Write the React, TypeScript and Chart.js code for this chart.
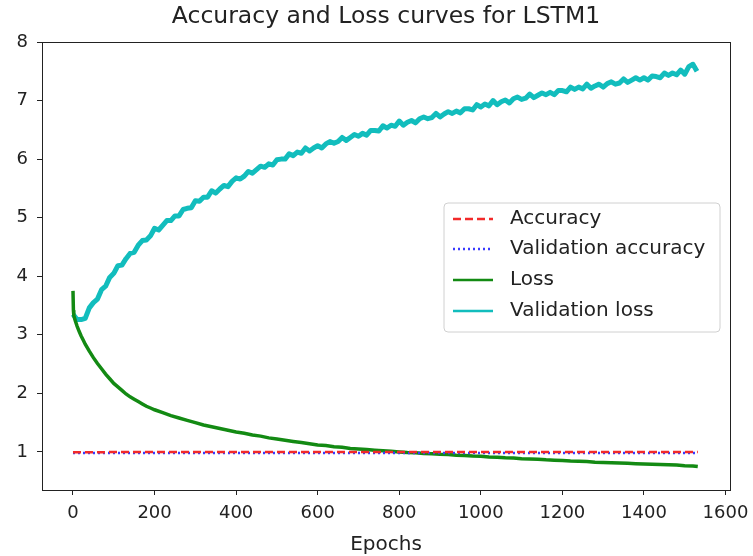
import React, { useEffect, useRef } from "react";
import { Chart, registerables } from "chart.js";

Chart.register(...registerables);

const TITLE = "Accuracy and Loss curves for LSTM1";
const X_LABEL = "Epochs";
const X_TICKS = [0, 200, 400, 600, 800, 1000, 1200, 1400, 1600];
const Y_TICKS = [1, 2, 3, 4, 5, 6, 7, 8];
const X_MIN = -76;
const X_MAX = 1611;
const Y_MIN = 0.35;
const Y_MAX = 8;

const accEpochs = [0, 100, 200, 300, 400, 500, 600, 700, 800, 900, 1000, 1100, 1200, 1300, 1400, 1500, 1532];
const accValues = [0.995, 0.997, 0.998, 0.998, 0.998, 0.999, 0.999, 0.999, 0.999, 0.999, 0.999, 0.999, 0.999, 0.999, 0.999, 0.999, 0.999];
const valAccValues = [0.982, 0.983, 0.983, 0.983, 0.983, 0.983, 0.983, 0.983, 0.983, 0.983, 0.983, 0.983, 0.983, 0.983, 0.983, 0.983, 0.983];

const lossEpochs = [
  0, 1, 2, 4, 6, 8, 10, 15, 20, 25, 30, 40, 50, 60, 70, 80, 90, 100, 110, 120, 130, 140, 150, 160, 170, 180, 190, 200,
  220, 240, 260, 280, 300, 320, 340, 360, 380, 400, 420, 440, 460, 480, 500, 520, 540, 560, 580, 600, 620, 640, 660,
  680, 700, 720, 740, 760, 780, 800, 820, 840, 860, 880, 900, 920, 940, 960, 980, 1000, 1020, 1040, 1060, 1080, 1100,
  1120, 1140, 1160, 1180, 1200, 1220, 1240, 1260, 1280, 1300, 1320, 1340, 1360, 1380, 1400, 1420, 1440, 1460, 1480,
  1500, 1520, 1532,
];
const lossValues = [
  3.75, 3.42, 3.33, 3.28, 3.23, 3.19, 3.15, 3.06, 2.98, 2.91, 2.84, 2.72, 2.61, 2.51, 2.42, 2.33, 2.25, 2.17, 2.11,
  2.05, 1.99, 1.94, 1.9, 1.86, 1.82, 1.78, 1.75, 1.72, 1.67, 1.62, 1.58, 1.54, 1.5, 1.46, 1.43, 1.4, 1.37, 1.34, 1.32,
  1.29, 1.27, 1.24, 1.22, 1.2, 1.18, 1.16, 1.14, 1.12, 1.11, 1.09, 1.08, 1.06, 1.05, 1.04, 1.03, 1.02, 1.01, 1.0, 0.99,
  0.985, 0.975, 0.97, 0.96, 0.955, 0.945, 0.94, 0.93, 0.925, 0.915, 0.91, 0.9, 0.895, 0.885, 0.88, 0.875, 0.865, 0.86,
  0.855, 0.845, 0.84, 0.835, 0.825, 0.82, 0.815, 0.81, 0.805, 0.8, 0.795, 0.79, 0.785, 0.78, 0.775, 0.765, 0.76, 0.75,
];

// validation loss, one reading every 10 epochs
const valLossValues = [
  3.35, 3.26, 3.26, 3.28, 3.46, 3.55, 3.61, 3.77, 3.83, 3.98, 4.05, 4.18, 4.19, 4.3, 4.39, 4.41, 4.53, 4.61, 4.62, 4.69,
  4.82, 4.79, 4.87, 4.95, 4.95, 5.03, 5.03, 5.14, 5.16, 5.17, 5.29, 5.28, 5.35, 5.35, 5.46, 5.42, 5.49, 5.55, 5.53, 5.62,
  5.68, 5.66, 5.71, 5.79, 5.76, 5.82, 5.88, 5.86, 5.92, 5.9, 5.99, 6.0, 6.0, 6.09, 6.06, 6.12, 6.1, 6.19, 6.14, 6.19,
  6.23, 6.19, 6.26, 6.3, 6.27, 6.3, 6.37, 6.32, 6.37, 6.42, 6.39, 6.44, 6.41, 6.49, 6.49, 6.48, 6.57, 6.53, 6.58, 6.56,
  6.65, 6.58, 6.63, 6.66, 6.62, 6.69, 6.72, 6.69, 6.71, 6.78, 6.72, 6.77, 6.81, 6.78, 6.82, 6.79, 6.86, 6.86, 6.84, 6.93,
  6.89, 6.94, 6.91, 7.0, 6.93, 6.98, 7.01, 6.96, 7.03, 7.06, 7.02, 7.04, 7.11, 7.05, 7.09, 7.13, 7.1, 7.14, 7.1, 7.17,
  7.17, 7.15, 7.23, 7.19, 7.23, 7.2, 7.28, 7.21, 7.25, 7.28, 7.23, 7.29, 7.32, 7.28, 7.3, 7.37, 7.31, 7.35, 7.39, 7.35,
  7.39, 7.35, 7.42, 7.41, 7.39, 7.47, 7.43, 7.47, 7.44, 7.52, 7.45, 7.58, 7.62, 7.5,
];
const valLossEpochs = valLossValues.map((_, i) => i * 10);

const FONT = "'DejaVu Sans', sans-serif";
const TEXT = "#222";

const pts = (xs: number[], ys: number[]) => xs.map((x, i) => ({ x, y: ys[i] }));

const decorPlugin = {
  id: "decor",
  afterDatasetsDraw(chart: any) {
    const { ctx, chartArea } = chart;
    const { left, right, top, bottom } = chartArea;
    ctx.save();
    ctx.strokeStyle = TEXT;
    ctx.lineWidth = 1;
    ctx.strokeRect(left + 0.5, top + 0.5, right - left, bottom - top);
    ctx.fillStyle = TEXT;
    ctx.textAlign = "center";
    ctx.textBaseline = "middle";
    ctx.font = `23.5px ${FONT}`;
    ctx.fillText(TITLE, (left + right) / 2, 17);
    ctx.font = `20px ${FONT}`;
    ctx.fillText(X_LABEL, (left + right) / 2, 545);
    // legend
    const bx = 444, by = 203, bw = 276, bh = 129, r = 4;
    ctx.beginPath();
    ctx.moveTo(bx + r, by);
    ctx.arcTo(bx + bw, by, bx + bw, by + bh, r);
    ctx.arcTo(bx + bw, by + bh, bx, by + bh, r);
    ctx.arcTo(bx, by + bh, bx, by, r);
    ctx.arcTo(bx, by, bx + bw, by, r);
    ctx.closePath();
    ctx.fillStyle = "rgba(255,255,255,0.8)";
    ctx.fill();
    ctx.strokeStyle = "#d0d0d0";
    ctx.lineWidth = 1;
    ctx.stroke();
    const rows = [219, 249, 280, 311];
    chart.data.datasets.forEach((ds: any, i: number) => {
      const y = rows[i];
      ctx.beginPath();
      ctx.setLineDash(ds.borderDash || []);
      ctx.strokeStyle = ds.borderColor;
      ctx.lineWidth = 2.5;
      ctx.moveTo(453, y);
      ctx.lineTo(493, y);
      ctx.stroke();
      ctx.setLineDash([]);
      ctx.fillStyle = TEXT;
      ctx.textAlign = "left";
      ctx.textBaseline = "middle";
      ctx.font = `20px ${FONT}`;
      ctx.fillText(ds.label, 510, y);
    });
    ctx.restore();
  },
};

export default function App() {
  const ref = useRef<HTMLCanvasElement | null>(null);
  useEffect(() => {
    document.body.style.margin = "0";
    const canvas = ref.current;
    if (!canvas) return;
    const chart = new Chart(canvas, {
      type: "line",
      data: {
        datasets: [
          {
            label: "Accuracy",
            data: pts(accEpochs, accValues),
            borderColor: "#f22a2a",
            borderDash: [8, 4],
            borderWidth: 2.5,
            pointRadius: 0,
            fill: false,
          },
          {
            label: "Validation accuracy",
            data: pts(accEpochs, valAccValues),
            borderColor: "#3a3aff",
            borderDash: [2, 3],
            borderWidth: 2.5,
            pointRadius: 0,
            fill: false,
          },
          {
            label: "Loss",
            data: pts(lossEpochs, lossValues),
            borderColor: "#138a13",
            borderWidth: 3.5,
            pointRadius: 0,
            fill: false,
          },
          {
            label: "Validation loss",
            data: pts(valLossEpochs, valLossValues),
            borderColor: "#12bdbd",
            borderWidth: 5,
            borderJoinStyle: "round",
            pointRadius: 0,
            fill: false,
          },
        ],
      },
      options: {
        animation: false,
        responsive: false,
        parsing: false as any,
        layout: { padding: { top: 42, right: 23, left: 0, bottom: 0 } },
        plugins: { legend: { display: false }, title: { display: false }, tooltip: { enabled: false } },
        scales: {
          x: {
            type: "linear",
            min: X_MIN,
            max: X_MAX,
            afterBuildTicks: (s: any) => {
              s.ticks = X_TICKS.map((v) => ({ value: v }));
            },
            afterFit: (s: any) => {
              s.height = 66;
              s.paddingLeft = 0;
              s.paddingRight = 0;
            },
            grid: { display: true, drawOnChartArea: false, drawTicks: true, tickLength: 5, color: TEXT },
            border: { display: true, color: TEXT, width: 1 },
            ticks: {
              color: TEXT,
              font: { family: FONT, size: 18 },
              padding: 8,
              maxRotation: 0,
              autoSkip: false,
              callback: (v: any) => String(v),
            },
          },
          y: {
            type: "linear",
            min: Y_MIN,
            max: Y_MAX,
            afterBuildTicks: (s: any) => {
              s.ticks = Y_TICKS.map((v) => ({ value: v }));
            },
            afterFit: (s: any) => {
              s.width = 42;
              s.paddingTop = 0;
              s.paddingBottom = 0;
            },
            grid: { display: true, drawOnChartArea: false, drawTicks: true, tickLength: 5, color: TEXT },
            border: { display: true, color: TEXT, width: 1 },
            ticks: {
              color: TEXT,
              font: { family: FONT, size: 18 },
              padding: 9,
              autoSkip: false,
              callback: (v: any) => String(v),
            },
          },
        },
      },
      plugins: [decorPlugin],
    });
    return () => chart.destroy();
  }, []);
  return (
    <div style={{ width: 753, height: 556 }}>
      <canvas ref={ref} width={753} height={556} style={{ display: "block" }} />
    </div>
  );
}
